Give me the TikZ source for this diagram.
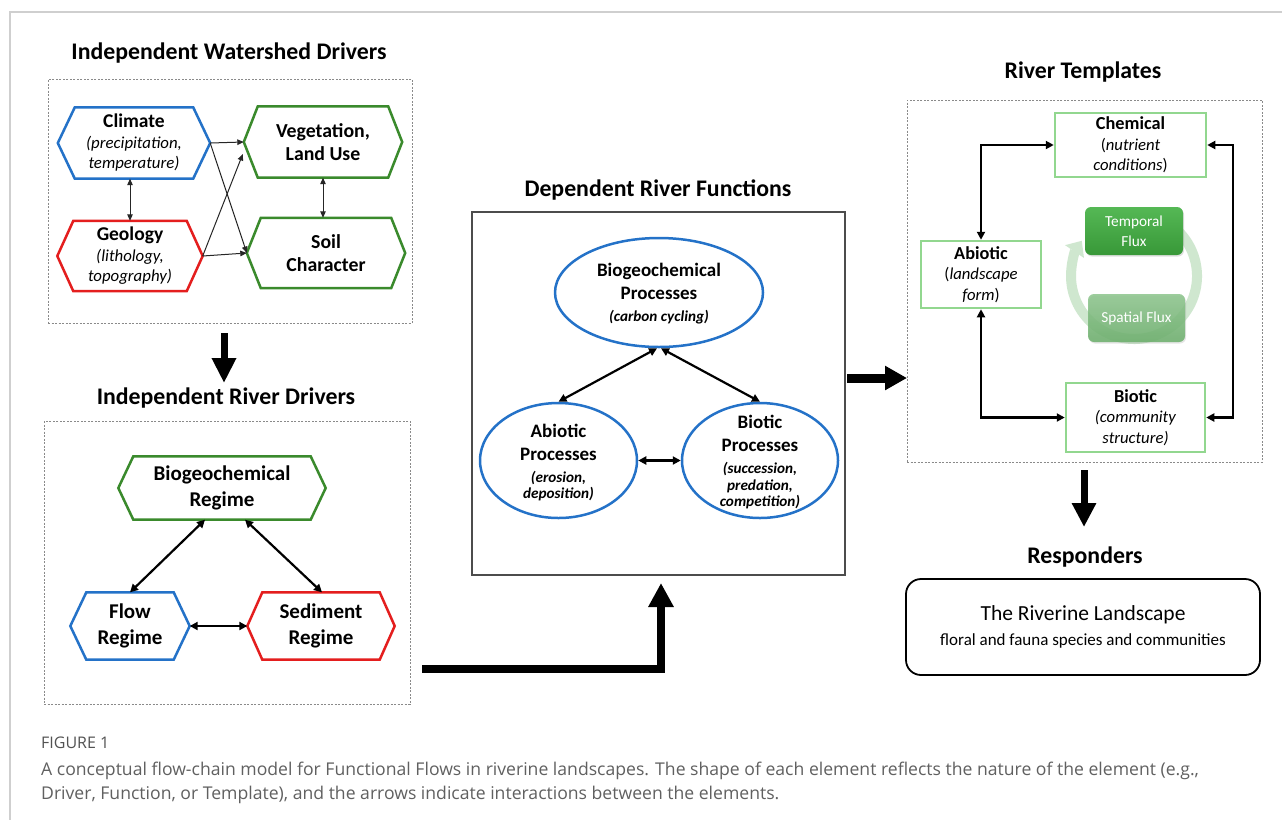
\documentclass[tikz,border=0pt]{standalone}
\usepackage{fontspec}
\setmainfont{Carlito}
\newfontfamily\capfont{Open Sans}
\usetikzlibrary{arrows.meta,shapes.geometric,calc,shadows}
\definecolor{hblue}{HTML}{2472C8}
\definecolor{hgreen}{HTML}{3A8A2C}
\definecolor{hred}{HTML}{E41E1E}
\definecolor{tgreen}{HTML}{92D78F}
\definecolor{framegray}{HTML}{CFCFCF}
\definecolor{dashgray}{HTML}{8A8A8A}
\definecolor{capgray}{HTML}{606060}
\definecolor{ringgreen}{HTML}{CFE7CF}
\definecolor{tfluxtop}{HTML}{55B855}
\definecolor{tfluxbot}{HTML}{389838}
\definecolor{sfluxtop}{HTML}{8CC58C}
\definecolor{sfluxbot}{HTML}{6AAE6A}
\newcommand\hexof[3]{\draw[line width=2.5pt,line join=miter,#2] (#1.west) -- ($(#1.north west)+(#3,0)$) -- ($(#1.north east)+(-#3,0)$) -- (#1.east) -- ($(#1.south east)+(-#3,0)$) -- ($(#1.south west)+(#3,0)$) -- cycle;}
\newcommand\proctitlefont{\fontsize{19}{16.5}\selectfont\upshape}
\begin{document}
\begin{tikzpicture}[x=1pt,y=-1pt,
  title/.style={font=\fontsize{23.8}{26}\selectfont\bfseries},
  dashbox/.style={draw=dashgray,line width=0.8pt,dash pattern=on 2pt off 1.5pt,inner sep=0pt},
  hexbox/.style={inner sep=0pt,align=center,font=\fontsize{16.8}{20}\selectfont},
  hexbig/.style={inner sep=0pt,align=center,font=\fontsize{19.8}{22.5}\selectfont\bfseries},
  hexbigger/.style={inner sep=0pt,align=center,font=\fontsize{21}{25.5}\selectfont\bfseries},
  smallarr/.style={draw=black!85,line width=1pt,-{Triangle[length=6.5pt,width=5.5pt]}},
  smallarrb/.style={draw=black!85,line width=1pt,{Triangle[length=6.5pt,width=5.5pt]}-{Triangle[length=6.5pt,width=5.5pt]}},
  medarr/.style={draw=black,line width=2.2pt,{Triangle[length=8pt,width=8pt]}-{Triangle[length=8pt,width=8pt]}},
  bigarrow/.style={draw=black,line width=7.5pt,line join=miter,-{Triangle[length=25pt,width=24pt]}},
  procell/.style={ellipse,draw=hblue,line width=2.5pt,inner sep=0pt},
  proctext/.style={align=center,inner sep=0pt,font=\fontsize{15.2}{16.5}\selectfont\bfseries\itshape},
  tempbox/.style={draw=tgreen,line width=2.5pt,inner sep=0pt,align=center,font=\fontsize{16.7}{20.5}\selectfont},
  fluxbox/.style={rounded corners=6pt,inner sep=0pt,align=center,text=white,font=\fontsize{15.3}{20}\selectfont},
  captext/.style={anchor=base west,inner sep=0pt,text=capgray,font=\capfont\fontsize{17.6}{19}\selectfont}
]
\useasboundingbox (0,0) rectangle (1282,820);
\fill[white] (0,0) rectangle (1282,820);
% page frame
\draw[framegray,line width=1.2pt] (1282,12) -- (10,12) -- (10,820);

% ---------- Independent Watershed Drivers ----------
\node[title] (t1) at (229,53) {Independent Watershed Drivers};
\node[dashbox,minimum width=364pt,minimum height=244pt] (wsbox) at (230,201) {};
\node[hexbox,minimum width=152pt,minimum height=71pt] (climate) at (134,143)
  {{\fontsize{19.5}{20}\selectfont\bfseries Climate}\\[1pt]\textit{(precipitation,}\\\textit{temperature)}};
\node[hexbig,minimum width=158pt,minimum height=71pt] (veg) at (323,142) {Vegetation,\\Land Use};
\node[hexbox,minimum width=145pt,minimum height=70pt] (geology) at (130,256)
  {{\fontsize{19.5}{20}\selectfont\bfseries Geology}\\[1pt]\textit{(lithology,}\\\textit{topography)}};
\node[hexbig,minimum width=158pt,minimum height=70pt] (soil) at (326,253) {Soil\\Character};
\hexof{climate}{hblue}{17}
\hexof{veg}{hgreen}{14}
\hexof{geology}{hred}{16}
\hexof{soil}{hgreen}{14}
\draw[smallarrb] (climate.south -| geology.north) -- (geology.north);
\draw[smallarrb] (veg.south) -- (veg.south |- soil.north);
\draw[smallarr] (climate.east) -- (veg.west);
\draw[smallarr] (climate.east) -- (soil.west);
\draw[smallarr] (geology.east) -- (soil.west);
\draw[smallarr] (geology.east) -- ($(veg.west)+(-1,12)$);

\coordinate (a1s) at (224,333);
\coordinate (a1e) at (224,383);
\draw[bigarrow,line width=7pt,-{Triangle[length=25pt,width=23pt]}] (a1s) -- (a1e);

% ---------- Independent River Drivers ----------
\node[title] (t2) at (226,398) {Independent River Drivers};
\node[dashbox,minimum width=366pt,minimum height=283pt] (rdbox) at (227,562.5) {};
\node[hexbigger,minimum width=207pt,minimum height=63pt] (bgreg) at (222,488) {Biogeochemical\\Regime};
\node[hexbigger,minimum width=119pt,minimum height=67pt] (flow) at (130,626) {Flow\\Regime};
\node[hexbigger,minimum width=147pt,minimum height=67pt] (sed) at (321,626) {Sediment\\Regime};
\hexof{bgreg}{hgreen}{15}
\hexof{flow}{hblue}{16}
\hexof{sed}{hred}{15}
\draw[medarr] ($(bgreg.south)+(-17,0)$) -- (flow.north);
\draw[medarr] ($(bgreg.south)+(23,0)$) -- ($(sed.north)+(1,0)$);
\draw[medarr] (flow.east) -- (sed.west);

\coordinate (ls) at (422,669);
\coordinate (le) at (661,583);
\draw[bigarrow,line width=8pt,-{Triangle[length=24pt,width=24pt]}] (ls) -| (le);

% ---------- Dependent River Functions ----------
\node[title] (t3) at (658,190) {Dependent River Functions};
\node[draw=black!70,line width=1.3pt,inner sep=0pt,minimum width=373pt,minimum height=363pt] (funbox) at (658.5,393.5) {};
\node[procell,minimum width=208pt,minimum height=109pt] (bgp) at (659,292.5) {};
\node[procell,minimum width=157pt,minimum height=115pt] (abp) at (558.5,460.5) {};
\node[procell,minimum width=156pt,minimum height=115pt] (btp) at (760,460.5) {};
\node[proctext] (bgpt) at ($(bgp)+(0,1)$) {{\proctitlefont Biogeochemical}\\[6.5pt]{\proctitlefont Processes}\\[5pt](carbon cycling)};
\node[proctext] (abpt) at ($(abp)+(0,2)$) {{\proctitlefont Abiotic}\\[6.5pt]{\proctitlefont Processes}\\[5.5pt](erosion,\\deposition)};
\node[proctext] (btpt) at ($(btp)+(0,2)$) {{\proctitlefont Biotic}\\[6.5pt]{\proctitlefont Processes}\\[5.5pt](succession,\\predation,\\competition)};
\draw[medarr] (bgp.268) -- (abp.north);
\draw[medarr] (bgp.272) -- (btp.north);
\draw[medarr] (abp.east) -- (btp.west);

\coordinate (rs) at (847,378);
\coordinate (re) at (907,378);
\draw[bigarrow,line width=9pt,-{Triangle[length=22pt,width=23pt]}] (rs) -- (re);

% ---------- River Templates ----------
\node[title] (t4) at (1083,72) {River Templates};
\node[dashbox,minimum width=355pt,minimum height=362pt] (tmbox) at (1084.5,281) {};
% flux ring
\draw[ringgreen,line width=10pt,-{Triangle[length=13pt,width=22pt]}] (1134,276) ++(-60:63) arc[start angle=-60,end angle=214,radius=63];
\node[fluxbox,minimum width=98pt,minimum height=48pt,top color=tfluxtop,bottom color=tfluxbot,drop shadow={opacity=0.25,shadow xshift=1pt,shadow yshift=-1.5pt}] (tflux) at (1134,231) {Temporal\\Flux};
\node[fluxbox,minimum width=97pt,minimum height=48pt,top color=sfluxtop,bottom color=sfluxbot,fill opacity=0.85,text opacity=1,drop shadow={opacity=0.2,shadow xshift=1pt,shadow yshift=-1.5pt}] (sflux) at (1136.5,318) {Spatial Flux};
\node[tempbox,minimum width=151pt,minimum height=64pt] (chem) at (1130.5,145)
  {{\fontsize{18.3}{20.5}\selectfont\bfseries Chemical}\\(\textit{nutrient}\\\textit{conditions})};
\node[tempbox,minimum width=120pt,minimum height=67pt] (abio) at (981,274.5)
  {{\fontsize{18.3}{20.5}\selectfont\bfseries Abiotic}\\(\textit{landscape}\\\textit{form})};
\node[tempbox,minimum width=139pt,minimum height=69pt] (biot) at (1135.5,417.5)
  {{\fontsize{18.3}{20.5}\selectfont\bfseries Biotic}\\\textit{(community}\\\textit{structure)}};
\draw[medarr,line join=miter] (abio.north) |- (chem.west);
\draw[medarr,line join=miter] (abio.south) |- (biot.west);
\draw[medarr,line join=miter] (chem.east) -- ++(26,0) |- (biot.east);

\coordinate (ds) at (1084,470);
\coordinate (de) at (1084,527);
\draw[bigarrow,line width=7pt,-{Triangle[length=24pt,width=23pt]}] (ds) -- (de);

% ---------- Responders ----------
\node[title] (t5) at (1085,557) {Responders};
\node[draw=black,line width=1.8pt,rounded corners=15pt,inner sep=0pt,minimum width=354pt,minimum height=96pt,align=center,font=\fontsize{17}{25}\selectfont] (resp) at (1083,627)
  {{\fontsize{21.5}{25}\selectfont The Riverine Landscape}\\floral and fauna species and communities};

% ---------- Caption ----------
\node[captext,text=black!68,font=\capfont\fontsize{16}{18}\selectfont] (capA) at (41,748) {FIGURE 1};
\node[captext] (capB) at (41,775) {A conceptual flow-chain model for Functional Flows in riverine landscapes. The shape of each element reflects the nature of the element (e.g.,};
\node[captext] (capC) at (41,799) {Driver, Function, or Template), and the arrows indicate interactions between the elements.};
\end{tikzpicture}
\end{document}
